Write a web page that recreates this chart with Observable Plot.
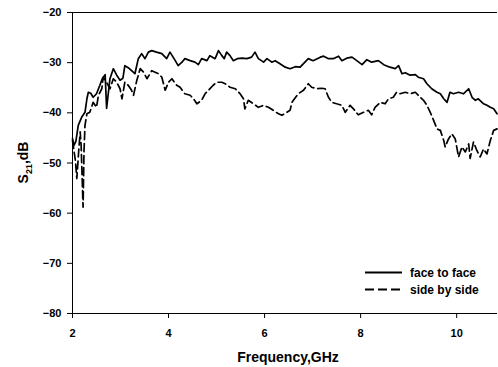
<!DOCTYPE html>
<html>
<head>
<meta charset="utf-8">
<script src="https://cdn.jsdelivr.net/npm/d3@7"></script>
<script src="https://cdn.jsdelivr.net/npm/@observablehq/plot@0.6"></script>
<style>
  html, body { margin: 0; padding: 0; background: #fff; overflow: hidden; }
  svg { display: block; }
</style>
</head>
<body>
<div id="chart"></div>
<script>
const seriesNames = ["face to face", "side by side"];
const xTicks = [2, 4, 6, 8, 10];
const yTicks = [-20, -30, -40, -50, -60, -70, -80];

const freqFace = [2.00,2.03,2.07,2.12,2.19,2.26,2.30,2.33,2.38,2.43,2.50,2.57,2.62,2.68,2.71,2.78,2.85,2.92,2.99,3.05,3.09,3.16,3.23,3.30,3.37,3.44,3.51,3.58,3.65,3.75,3.86,3.96,4.03,4.14,4.20,4.28,4.34,4.45,4.55,4.62,4.69,4.80,4.86,4.97,5.04,5.11,5.16,5.21,5.28,5.35,5.43,5.53,5.63,5.73,5.80,5.87,5.98,6.05,6.15,6.22,6.32,6.43,6.53,6.64,6.74,6.84,6.91,7.01,7.16,7.23,7.33,7.43,7.54,7.61,7.71,7.82,7.92,8.03,8.13,8.23,8.37,8.48,8.61,8.72,8.79,8.86,8.93,9.03,9.14,9.20,9.31,9.38,9.48,9.59,9.66,9.73,9.80,9.86,9.93,10.04,10.14,10.25,10.32,10.39,10.45,10.56,10.63,10.70,10.77,10.84];
const valFace = [-45.1,-46.5,-45.7,-42.5,-40.9,-39.9,-37.2,-35.9,-36.1,-36.9,-36.2,-34.5,-33.2,-32.4,-39.1,-33.2,-31.2,-32.5,-33.5,-33.1,-30.6,-31.0,-31.6,-32.2,-29.2,-28.2,-29.2,-27.9,-27.6,-27.9,-28.2,-29.2,-27.9,-29.6,-30.6,-29.9,-29.2,-29.6,-29.9,-30.4,-29.2,-29.6,-28.6,-29.2,-27.6,-28.6,-29.2,-27.9,-28.6,-29.6,-29.2,-29.1,-29.2,-28.9,-27.9,-29.2,-29.9,-29.2,-29.9,-29.6,-30.2,-30.9,-31.2,-30.8,-30.9,-29.9,-29.2,-29.6,-28.9,-28.7,-29.2,-29.2,-28.7,-29.6,-29.1,-28.9,-29.6,-30.4,-29.4,-29.9,-29.6,-30.4,-30.9,-31.2,-30.6,-32.2,-32.0,-32.5,-32.4,-32.9,-33.2,-34.2,-35.2,-35.9,-36.2,-37.2,-37.9,-35.9,-36.2,-35.9,-36.2,-35.2,-36.9,-37.5,-37.2,-38.2,-38.5,-38.9,-39.2,-40.2];

const freqSide = [2.00,2.03,2.06,2.09,2.13,2.16,2.18,2.22,2.24,2.26,2.30,2.36,2.43,2.50,2.54,2.61,2.64,2.71,2.78,2.85,2.92,2.99,3.03,3.09,3.16,3.23,3.27,3.34,3.41,3.48,3.55,3.65,3.72,3.79,3.86,3.93,4.00,4.07,4.17,4.24,4.34,4.45,4.52,4.59,4.69,4.76,4.83,4.93,5.00,5.11,5.18,5.28,5.39,5.49,5.56,5.59,5.66,5.77,5.87,5.98,6.08,6.18,6.29,6.36,6.46,6.53,6.57,6.60,6.70,6.81,6.91,6.98,7.09,7.19,7.26,7.33,7.40,7.50,7.61,7.68,7.78,7.85,7.95,8.06,8.16,8.23,8.30,8.41,8.51,8.58,8.68,8.75,8.82,8.93,9.03,9.14,9.24,9.31,9.38,9.45,9.52,9.59,9.66,9.73,9.76,9.83,9.90,9.97,10.04,10.11,10.18,10.25,10.28,10.35,10.42,10.49,10.56,10.63,10.70,10.77,10.84];
const valSide = [-45.5,-47.5,-49.5,-53.1,-47.5,-43.8,-46.5,-58.8,-47.5,-42.5,-40.2,-39.9,-37.9,-38.9,-36.5,-35.2,-32.9,-33.9,-35.2,-33.2,-33.9,-35.2,-37.2,-33.9,-34.5,-35.5,-36.5,-33.5,-31.2,-31.9,-33.2,-31.6,-31.9,-32.2,-32.9,-35.5,-33.9,-33.2,-34.5,-34.9,-36.2,-36.5,-37.2,-38.2,-37.5,-36.2,-35.5,-34.5,-33.9,-33.9,-34.2,-34.9,-35.2,-36.2,-37.2,-39.2,-37.5,-38.2,-38.9,-38.5,-38.9,-39.5,-40.2,-40.5,-39.9,-39.5,-37.9,-37.5,-36.2,-35.5,-34.2,-34.9,-35.2,-35.1,-35.2,-36.9,-37.9,-38.2,-38.5,-39.9,-38.5,-39.2,-40.4,-39.9,-39.5,-40.4,-38.9,-37.9,-38.2,-37.2,-36.9,-35.9,-36.2,-35.9,-36.2,-35.9,-36.9,-37.5,-38.5,-39.9,-41.5,-43.2,-43.5,-45.5,-46.8,-45.2,-44.2,-45.2,-48.8,-46.8,-47.8,-46.2,-49.1,-45.8,-47.5,-48.8,-47.2,-48.2,-45.5,-43.5,-43.2];

const face = freqFace.map((f, i) => ({f, v: valFace[i]}));
const side = freqSide.map((f, i) => ({f, v: valSide[i]}));

const font = "'Liberation Sans', Arial, Helvetica, sans-serif";

const chart = Plot.plot({
  width: 498,
  height: 367,
  marginLeft: 72,
  marginRight: 1,
  marginTop: 12,
  marginBottom: 54,
  style: {fontFamily: font, fontWeight: "bold", fontSize: "11px", color: "#000", background: "#fff"},
  x: {domain: [2, 10.85]},
  y: {domain: [-80, -20]},
  marks: [
    Plot.ruleY([-20], {stroke: "#000", strokeWidth: 1}),
    Plot.ruleY([-80], {stroke: "#000", strokeWidth: 1}),
    Plot.ruleX([2], {stroke: "#000", strokeWidth: 1}),
    Plot.line(side, {x: "f", y: "v", stroke: "#000", strokeWidth: 1.7, strokeDasharray: "8,4"}),
    Plot.line(face, {x: "f", y: "v", stroke: "#000", strokeWidth: 1.7}),
    Plot.axisX({ticks: xTicks, tickSize: 5, tickPadding: 11, label: null, fontSize: 11, fontWeight: "bold"}),
    Plot.axisY({ticks: yTicks, tickSize: 5, tickPadding: 6, label: null, fontSize: 11, fontWeight: "bold"})
  ]
});

const svg = d3.select(chart);

// axis titles
svg.append("text")
  .attr("x", 288).attr("y", 362)
  .attr("text-anchor", "middle")
  .style("font-family", font).style("font-weight", "bold").style("font-size", "14px")
  .style("fill", "#000")
  .text("Frequency,GHz");

const yt = svg.append("text")
  .attr("transform", "translate(28,162.5) rotate(-90)")
  .attr("text-anchor", "middle")
  .style("font-family", font).style("font-weight", "bold").style("font-size", "14px")
  .style("fill", "#000");
yt.append("tspan").text("S");
yt.append("tspan").attr("dy", 4).style("font-size", "9px").text("21");
yt.append("tspan").attr("dy", -4).text(",dB");

// legend
const legend = svg.append("g");
const items = [
  {name: seriesNames[0], y: 272.5, dash: null},
  {name: seriesNames[1], y: 289.5, dash: "9,4"}
];
items.forEach(it => {
  legend.append("line")
    .attr("x1", 365).attr("x2", 402).attr("y1", it.y).attr("y2", it.y)
    .attr("stroke", "#000").attr("stroke-width", 1.8)
    .attr("stroke-dasharray", it.dash);
  legend.append("text")
    .attr("x", 410).attr("y", it.y + 4.2)
    .attr("text-anchor", "start")
    .style("font-family", font).style("font-weight", "bold").style("font-size", "12px")
    .style("fill", "#000")
    .text(it.name);
});

document.getElementById("chart").appendChild(chart);
</script>
</body>
</html>
